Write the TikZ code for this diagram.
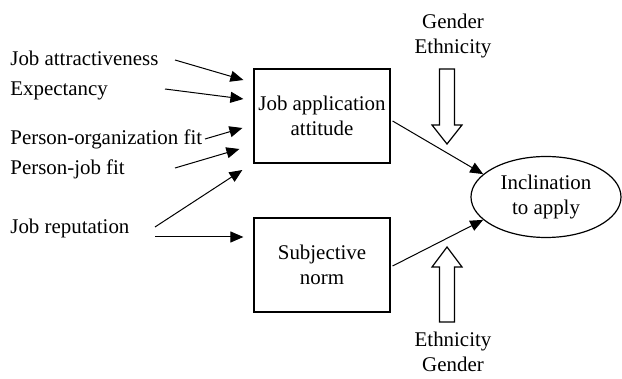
\documentclass[tikz,border=0pt]{standalone}
\usepackage{fontspec}
\setmainfont{Liberation Serif}
\usetikzlibrary{arrows.meta}
\usetikzlibrary{shapes.geometric}

\begin{document}
\begin{tikzpicture}[x=.5pt, y=-.5pt, font=\fontsize{10.45pt}{12.5pt}\selectfont,
  lbl/.style={anchor=base west, inner sep=0},
  boxnode/.style={draw, line width=.6pt, minimum width=68pt, minimum height=47pt, align=center, inner sep=0},
  arr/.style={line width=.5pt, -{Triangle[length=6.5pt,width=5.5pt]}},
  hollow/.style={draw, line width=.6pt, fill=white}]
\useasboundingbox (0,0) rectangle (622,379);
% antecedents
\node[lbl] (attr) at (10,65.5) {Job attractiveness};
\node[lbl] (expc) at (10,96) {Expectancy};
\node[lbl] (porg) at (10,145) {Person-organization fit};
\node[lbl] (pjob) at (10,175) {Person-job fit};
\node[lbl] (jrep) at (10,234) {Job reputation};
% attitude, norm, outcome
\node[boxnode] (att) at (322,116) {Job application\\attitude};
\node[boxnode] (sub) at (322,265) {Subjective\\norm};
\node[draw, ellipse, line width=.6pt, minimum width=75pt, minimum height=40.5pt, align=center, inner sep=0] (incl) at (546,197) {Inclination\\to apply};
% moderators
\node[align=center, inner sep=0] (modtop) at (453,36) {Gender\\Ethnicity};
\node[align=center, inner sep=0] (modbot) at (453,351.5) {Ethnicity\\Gender};
\draw[hollow] (439.5,69) -- (454.5,69) -- (454.5,125) -- (462,125) -- (447,144) -- (432,125) -- (439.5,125) -- cycle;
\draw[hollow] (439.5,322) -- (454.5,322) -- (454.5,267) -- (462,267) -- (447,247) -- (432,267) -- (439.5,267) -- cycle;
% paths
\draw[arr] ([shift={(165,-5.5)}]attr.base west) -- ([shift={(-10,-36)}]att.west);
\draw[arr] ([shift={(155,-7)}]expc.base west) -- ([shift={(-10,-17)}]att.west);
\draw[arr] ([shift={(195,-6)}]porg.base west) -- ([shift={(-11,12)}]att.west);
\draw[arr] ([shift={(165,-7)}]pjob.base west) -- ([shift={(-14,33)}]att.west);
\draw[arr] ([shift={(145,-7)}]jrep.base west) -- ([shift={(-11,54)}]att.west);
\draw[arr] ([shift={(145,3)}]jrep.base west) -- ([shift={(-10,-28)}]sub.west);
\draw[arr] ([shift={(2,5)}]att.east) -- (incl.160);
\draw[arr] ([shift={(2,1)}]sub.east) -- (incl.200);
\end{tikzpicture}
\end{document}
